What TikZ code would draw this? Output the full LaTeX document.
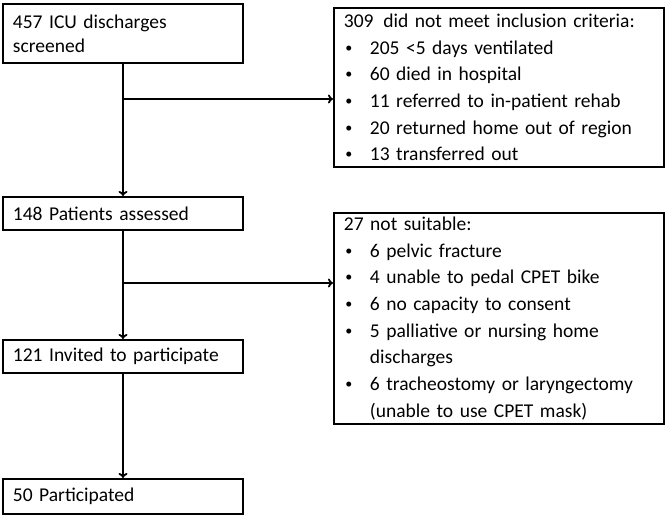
\documentclass[tikz,border=0pt]{standalone}
\usepackage{fontspec}
\setmainfont{Carlito}
\usepackage{graphicx}
\usepackage{tikz}
\usetikzlibrary{arrows.meta, positioning}

\newcommand{\bul}{\makebox[26bp][l]{\hspace{1.5bp}\raisebox{0.1em}{\scalebox{0.72}{\textbullet}}}}
\newcommand{\cont}{\hspace*{26bp}}

\begin{document}
\begin{tikzpicture}[x=1bp, y=-1bp, font=\fontsize{19.6}{26.8}\selectfont,
    stage/.style={draw, line width=1.8bp, anchor=north west, text width=220bp,
      inner xsep=10bp, inner ysep=0bp, align=left, minimum height=33bp,
      font=\fontsize{19.6}{24}\selectfont},
    reason/.style={draw, line width=1.8bp, anchor=north west, text width=310bp,
      inner xsep=10bp, inner ysep=0bp, align=left},
    flow/.style={line width=1.8bp, -{To[length=5bp, width=9bp]}}]
  \useasboundingbox (0, 0) rectangle (666, 515);

  \node[stage, minimum height=59bp] (screen) at (2, 3) {457 ICU discharges\\screened};
  \node[stage] (assess) at (2, 196) {148 Patients assessed};
  \node[stage] (invite) at (2, 339) {121 Invited to participate};
  \node[stage, minimum height=35bp] (part) at (2, 478) {50 Participated};

  \node[reason, minimum height=159bp] (excl) at (333, 7) {309\, did not meet inclusion criteria:\\
    \bul 205 <5 days ventilated\\
    \bul 60 died in hospital\\
    \bul 11 referred to in-patient rehab\\
    \bul 20 returned home out of region\\
    \bul 13 transferred out};
  \node[reason, minimum height=211bp] (unfit) at (333, 212) {27 not suitable:\\
    \bul 6 pelvic fracture\\
    \bul 4 unable to pedal CPET bike\\
    \bul 6 no capacity to consent\\
    \bul 5 palliative or nursing home\\
    \cont discharges\\
    \bul 6 tracheostomy or laryngectomy\\
    \cont (unable to use CPET mask)};

  \coordinate (b1) at (123, 99);
  \coordinate (b2) at (123, 283);

  \draw[flow] (screen.south -| b1) -- (assess.north -| b1);
  \draw[flow] (assess.south -| b2) -- (invite.north -| b2);
  \draw[flow] (invite.south -| b2) -- (part.north -| b2);
  \draw[flow] (b1) -- (b1 -| excl.west);
  \draw[flow] (b2) -- (b2 -| unfit.west);
\end{tikzpicture}
\end{document}
